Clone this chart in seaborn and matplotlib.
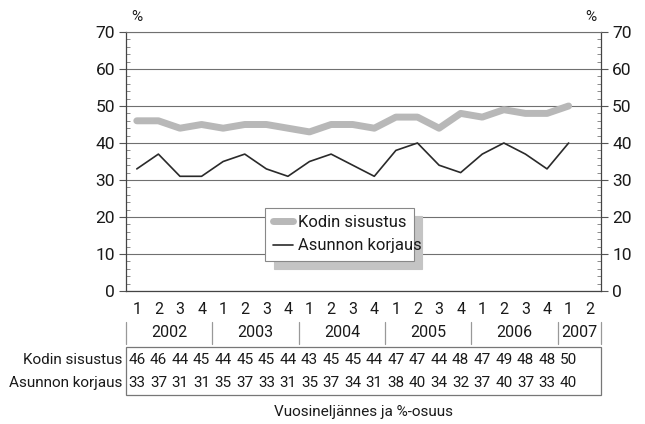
import matplotlib
matplotlib.use("Agg")
import matplotlib.pyplot as plt
from matplotlib.ticker import MultipleLocator
from matplotlib.patches import Rectangle
from matplotlib.lines import Line2D
import numpy as np
import pandas as pd
import seaborn as sns

# ----------------- Data -----------------
years = ["2002", "2003", "2004", "2005", "2006", "2007"]
quarters_per_year = [4, 4, 4, 4, 4, 2]
quarter_labels = ["1", "2", "3", "4"] * 5 + ["1", "2"]

kodin_sisustus = [46, 46, 44, 45, 44, 45, 45, 44, 43, 45, 45, 44, 47, 47, 44, 48, 47, 49, 48, 48, 50]
asunnon_korjaus = [33, 37, 31, 31, 35, 37, 33, 31, 35, 37, 34, 31, 38, 40, 34, 32, 37, 40, 37, 33, 40]

series_names = ["Kodin sisustus", "Asunnon korjaus"]
x_title = "Vuosineljännes ja %-osuus"

# ----------------- Style -----------------
sns.set_style("white")
plt.rcParams["font.family"] = ["Roboto", "DejaVu Sans"]
TXT = "#1a1a1a"
FS = 11

fig = plt.figure(figsize=(6.45, 4.24), dpi=100)
ax = fig.add_axes([126 / 645, 1 - 291 / 424, 475 / 645, 259 / 424])

pos = np.arange(len(quarter_labels))
df = pd.DataFrame({
    "x": pos[:len(kodin_sisustus)],
    series_names[0]: kodin_sisustus,
    series_names[1]: asunnon_korjaus,
})

sns.lineplot(data=df, x="x", y=series_names[0], ax=ax, color="#b8b8b8",
             linewidth=5, label=series_names[0], zorder=3)
sns.lineplot(data=df, x="x", y=series_names[1], ax=ax, color="#2a2a2a",
             linewidth=1.2, label=series_names[1], zorder=4)

ax.set_xlim(-0.5, len(quarter_labels) - 0.5)
ax.set_ylim(0, 70)
ax.set_xlabel("")
ax.set_ylabel("")

# y axis both sides
ax.yaxis.set_major_locator(MultipleLocator(10))
ax.yaxis.set_minor_locator(MultipleLocator(2))
ax.tick_params(axis="y", which="major", direction="out", length=5, width=0.8,
               color="#555555", left=True, right=True, labelleft=True, labelright=True,
               labelsize=12.5, labelcolor=TXT, pad=3)
ax.tick_params(axis="y", which="minor", direction="in", length=3, width=0.6,
               color="#777777", left=True, right=True)
ax.grid(axis="y", color="#707070", linewidth=0.8)
ax.set_axisbelow(True)

ax.set_xticks(pos)
ax.set_xticklabels(quarter_labels)
ax.tick_params(axis="x", length=0, labelsize=FS + 0.5, labelcolor=TXT, pad=8)

for side in ["left", "right", "bottom"]:
    ax.spines[side].set_color("#444444")
    ax.spines[side].set_linewidth(0.9)
ax.spines["top"].set_color("#707070")
ax.spines["top"].set_linewidth(0.8)

ax.text(0.01, 1.03, "%", transform=ax.transAxes, ha="left", va="bottom", fontsize=FS, color=TXT)
ax.text(0.99, 1.03, "%", transform=ax.transAxes, ha="right", va="bottom", fontsize=FS, color=TXT)

# year labels and separators
trans = ax.get_xaxis_transform()
start = -0.5
bounds = [start]
for yr, n in zip(years, quarters_per_year):
    mid = start + n / 2
    ax.text(mid, -0.162, yr, transform=trans, ha="center", va="center", fontsize=FS + 0.5, color=TXT)
    start += n
    bounds.append(start)
for b in bounds:
    ax.add_line(Line2D([b, b], [-0.118, -0.203], transform=trans, color="#999999",
                       linewidth=0.9, clip_on=False))

# data table
ax.add_patch(Rectangle((-0.5, -0.402), len(quarter_labels), 0.186, transform=trans,
                       fill=False, edgecolor="#777777", linewidth=0.9, clip_on=False))
row_y = [-0.266, -0.355]
for name, vals, ry in zip(series_names, [kodin_sisustus, asunnon_korjaus], row_y):
    ax.text(-0.008, ry, name, transform=ax.transAxes, ha="right", va="center",
            fontsize=FS, color=TXT)
    for xi, v in zip(pos, vals):
        ax.text(xi, ry, str(v), transform=trans, ha="center", va="center",
                fontsize=FS, color=TXT)

ax.text(0.5, -0.467, x_title, transform=ax.transAxes, ha="center", va="center",
        fontsize=FS, color=TXT)

# legend with shadow
leg = ax.legend(loc="lower left", bbox_to_anchor=(0.293, 0.116, 0.313, 0.216),
                mode="expand", borderaxespad=0, frameon=True, fancybox=False, fontsize=12,
                handlelength=1.2, handletextpad=0.3, borderpad=0.45, labelspacing=0.5,
                shadow={"ox": 6, "oy": -6, "color": "#c4c4c4", "alpha": 1})
leg.get_frame().set_edgecolor("#888888")
leg.get_frame().set_linewidth(0.8)
for t in leg.get_texts():
    t.set_color(TXT)

fig.savefig("out.png", dpi=100, facecolor="white")
